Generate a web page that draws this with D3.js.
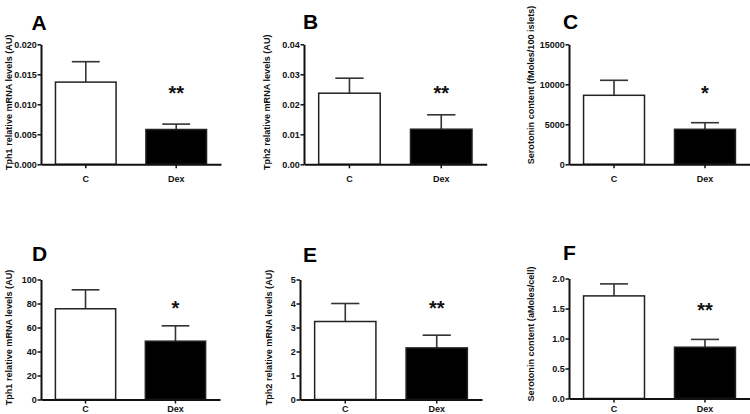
<!DOCTYPE html>
<html>
<head>
<meta charset="utf-8">
<script src="https://cdn.jsdelivr.net/npm/d3@7"></script>
<style>
  html, body { margin: 0; padding: 0; background: #fff; }
  svg { display: block; font-family: "Liberation Sans", Arial, sans-serif; font-weight: bold; }
</style>
</head>
<body>
<svg id="chart" width="750" height="414"></svg>
<script>
// ---- data ----
const categories = ["C", "Dex"];
const panelLetters = ["A", "B", "C", "D", "E", "F"];
const yTitles = [
  "Tph1 relative mRNA levels (AU)",
  "Tph2 relative mRNA levels (AU)",
  "Serotonin content (fMoles/100 islets)",
  "Tph1 relative mRNA levels (AU)",
  "Tph2 relative mRNA levels (AU)",
  "Serotonin content (aMoles/cell)"
];
const meansA = [0.0137, 0.0058];  const semA = [0.0034, 0.0009];
const meansB = [0.0237, 0.0117];  const semB = [0.0050, 0.0048];
const meansC = [8625, 4375];      const semC = [1875, 825];
const meansD = [75.6, 48.6];      const semD = [15.8, 12.8];
const meansE = [3.25, 2.15];      const semE = [0.75, 0.53];
const meansF = [1.71, 0.855];     const semF = [0.20, 0.13];
const ticksA = [0, 0.005, 0.010, 0.015, 0.020];
const ticksB = [0, 0.01, 0.02, 0.03, 0.04];
const ticksC = [0, 5000, 10000, 15000];
const ticksD = [0, 20, 40, 60, 80, 100];
const ticksE = [0, 1, 2, 3, 4, 5];
const ticksF = [0, 0.5, 1.0, 1.5, 2.0];
const tickDecimals = [3, 2, 0, 0, 0, 1];
const significance = ["**", "**", "*", "*", "**", "**"];
const starLevelA = 0.0121, starLevelB = 0.0241, starLevelC = 9040,
      starLevelD = 77, starLevelE = 3.86, starLevelF = 1.50;

const means = [meansA, meansB, meansC, meansD, meansE, meansF];
const sems = [semA, semB, semC, semD, semE, semF];
const ticks = [ticksA, ticksB, ticksC, ticksD, ticksE, ticksF];
const starLevels = [starLevelA, starLevelB, starLevelC, starLevelD, starLevelE, starLevelF];

// ---- layout (pixels) ----
const layout = [
  {ax: 41,  end: 221,   top: 44.3,  bot: 164.3, titleX: 12,  titleY: 102.3, lx: 31.5, ly: 30,   xpad: 7},
  {ax: 304, end: 486.7, top: 44.3,  bot: 164.3, titleX: 270, titleY: 102.3, lx: 303,  ly: 29,   xpad: 7},
  {ax: 569, end: 750,   top: 44.3,  bot: 164.3, titleX: 534, titleY: 85,    lx: 563,  ly: 28.5, xpad: 7},
  {ax: 41,  end: 220,   top: 279.5, bot: 399.5, titleX: 12,  titleY: 337.5, lx: 32,   ly: 261,  xpad: 2},
  {ax: 300, end: 482,   top: 279.5, bot: 399.5, titleX: 272, titleY: 337.5, lx: 303,  ly: 262,  xpad: 2},
  {ax: 569, end: 750,   top: 278.5, bot: 398.5, titleX: 534, titleY: 334,   lx: 563,  ly: 260,  xpad: 3}
];

const svg = d3.select("#chart");
svg.append("rect").attr("width", 750).attr("height", 414).attr("fill", "#fff");

const ink = "#111";

layout.forEach((L, i) => {
  const g = svg.append("g");
  const tk = ticks[i];
  const y = d3.scaleLinear().domain([0, tk[tk.length - 1]]).range([L.bot, L.top]);
  const x = d3.scaleBand().domain(categories).range([L.ax, L.end])
    .paddingInner(0.33).paddingOuter(0.16);

  const rows = categories.map((c, j) => ({c, m: means[i][j], s: sems[i][j], j}));

  // error bars (upper only)
  const capW = x.bandwidth() * 0.46;
  const eb = g.selectAll(".eb").data(rows).enter().append("g");
  eb.append("line")
    .attr("x1", d => x(d.c) + x.bandwidth() / 2).attr("x2", d => x(d.c) + x.bandwidth() / 2)
    .attr("y1", d => y(d.m)).attr("y2", d => y(d.m + d.s))
    .attr("stroke", "#333").attr("stroke-width", 1.6);
  eb.append("line")
    .attr("x1", d => x(d.c) + x.bandwidth() / 2 - capW / 2)
    .attr("x2", d => x(d.c) + x.bandwidth() / 2 + capW / 2)
    .attr("y1", d => y(d.m + d.s)).attr("y2", d => y(d.m + d.s))
    .attr("stroke", "#333").attr("stroke-width", 1.6);

  // bars
  g.selectAll(".bar").data(rows).enter().append("rect")
    .attr("x", d => x(d.c)).attr("width", x.bandwidth())
    .attr("y", d => y(d.m)).attr("height", d => y(0) - y(d.m))
    .attr("fill", d => d.j === 0 ? "#fff" : "#000")
    .attr("stroke", "#222").attr("stroke-width", 1.5);

  // y axis
  const fmt = d3.format("." + tickDecimals[i] + "f");
  const yAx = g.append("g").attr("transform", `translate(${L.ax},0)`)
    .call(d3.axisLeft(y).tickValues(tk).tickFormat(fmt).tickSize(3.5).tickSizeOuter(0).tickPadding(0.8));
  yAx.select(".domain").attr("stroke", ink).attr("stroke-width", 2);
  yAx.selectAll(".tick line").attr("stroke", ink).attr("stroke-width", 1.5);
  yAx.selectAll("text").attr("font-size", 9).attr("font-family", "Liberation Sans, Arial, sans-serif")
    .attr("font-weight", "bold").attr("fill", ink);

  // x axis
  const xAx = g.append("g").attr("transform", `translate(0,${L.bot})`)
    .call(d3.axisBottom(x).tickSize(4).tickSizeOuter(0).tickPadding(L.xpad));
  xAx.select(".domain").attr("stroke", ink).attr("stroke-width", 2);
  xAx.selectAll(".tick line").attr("stroke", ink).attr("stroke-width", 1.5);
  xAx.selectAll("text").attr("font-size", 9).attr("font-family", "Liberation Sans, Arial, sans-serif")
    .attr("font-weight", "bold").attr("fill", ink);

  // y title
  g.append("text")
    .attr("transform", `translate(${L.titleX},${L.titleY}) rotate(-90)`)
    .attr("text-anchor", "middle").attr("font-size", 9.1).attr("fill", ink)
    .text(yTitles[i]);

  // panel letter
  g.append("text").attr("x", L.lx).attr("y", L.ly)
    .attr("font-size", 21).attr("fill", "#000").text(panelLetters[i]);

  // significance stars
  g.append("text")
    .attr("x", x("Dex") + x.bandwidth() / 2).attr("y", y(starLevels[i]) + 8)
    .attr("text-anchor", "middle").attr("font-size", 20).attr("fill", ink)
    .text(significance[i]);
});
</script>
</body>
</html>
